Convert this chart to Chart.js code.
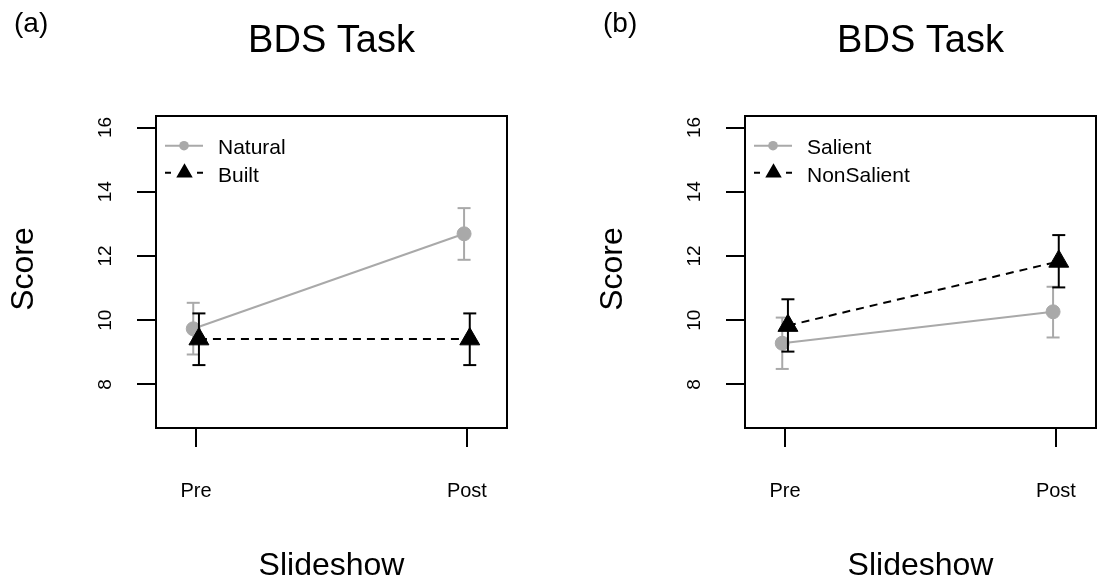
<!DOCTYPE html>
<html>
<head>
<meta charset="utf-8">
<script src="https://cdn.jsdelivr.net/npm/chart.js@4/dist/chart.umd.min.js"></script>
<style>
html,body{margin:0;padding:0;background:#fff;width:1100px;height:579px;overflow:hidden}
#wrap{position:relative;width:1100px;height:579px;overflow:hidden}
canvas{position:absolute;top:0}
</style>
</head>
<body>
<div id="wrap">
<canvas id="ca" width="550" height="579" style="left:0"></canvas>
<canvas id="cb" width="570" height="579" style="left:550px"></canvas>
</div>
<script>
// ---- data ----
const categories = ['Pre', 'Post'];
const xPositions = [1, 2];
const yTicks = [8, 10, 12, 14, 16];
const titleText = 'BDS Task';
const xTitle = 'Slideshow';
const yTitle = 'Score';

const naturalMean = [9.73, 12.69];
const naturalLo   = [8.93, 11.88];
const naturalHi   = [10.54, 13.49];
const builtMean   = [9.41, 9.41];
const builtLo     = [8.60, 8.60];
const builtHi     = [10.21, 10.21];

const salientMean    = [9.28, 10.26];
const salientLo      = [8.48, 9.46];
const salientHi      = [10.08, 11.04];
const nonSalientMean = [9.83, 11.83];
const nonSalientLo   = [9.02, 11.02];
const nonSalientHi   = [10.65, 12.65];

const dodge = 0.0105;

// ---- styles ----
const GRAY = '#a9a9a9';
const BLACK = '#000000';
const FONT = '"Liberation Sans", Arial, sans-serif';

function seriesDatasets(mean, lo, hi, offset, color, isTri, orderBase) {
  const ds = [];
  ds.push({
    data: xPositions.map((x, i) => ({x: x + offset, y: mean[i]})),
    borderColor: color, borderWidth: 2,
    borderDash: isTri ? [8, 6] : [],
    showLine: true,
    pointStyle: isTri ? 'triangle' : 'circle',
    pointRadius: isTri ? 11.5 : 7,
    pointBackgroundColor: color, pointBorderColor: color, pointBorderWidth: 1,
    order: orderBase
  });
  xPositions.forEach((x, i) => {
    ds.push({
      data: [{x: x + offset, y: lo[i]}, {x: x + offset, y: hi[i]}],
      borderColor: color, borderWidth: 2, showLine: true,
      pointStyle: 'line', pointRadius: 6.5, pointBorderWidth: 2,
      pointBorderColor: color, pointBackgroundColor: color,
      order: orderBase + 1
    });
  });
  return ds;
}

function makePanel(id, cfg) {
  const deco = {
    id: 'deco' + id,
    afterDraw(chart) {
      const ctx = chart.ctx, a = chart.chartArea;
      const ys = chart.scales.y;
      ctx.save();
      ctx.strokeStyle = '#000'; ctx.lineWidth = 2;
      ctx.strokeRect(a.left, a.top, a.right - a.left, a.bottom - a.top);
      ctx.fillStyle = '#000';
      // y tick labels (rotated)
      ctx.font = '19px ' + FONT;
      ctx.textAlign = 'center'; ctx.textBaseline = 'alphabetic';
      yTicks.forEach(v => {
        const py = ys.getPixelForValue(v);
        ctx.save(); ctx.translate(a.left - 45.3, py); ctx.rotate(-Math.PI / 2);
        ctx.fillText(String(v), 0, 0); ctx.restore();
      });
      // y title
      ctx.font = '32px ' + FONT;
      ctx.save(); ctx.translate(a.left - 123, (a.top + a.bottom) / 2 - 3); ctx.rotate(-Math.PI / 2);
      ctx.fillText(yTitle, 0, 0); ctx.restore();
      // x title
      ctx.fillText(xTitle, (a.left + a.right) / 2, 575);
      // main title
      ctx.font = '38px ' + FONT;
      ctx.fillText(titleText, (a.left + a.right) / 2, 52);
      // panel letter
      ctx.font = '28px ' + FONT; ctx.textAlign = 'left';
      ctx.fillText(cfg.letter, a.left - 142, 32);
      // legend
      const L = a.left;
      ctx.font = '21px ' + FONT;
      // row 1
      let ry = 145.7;
      ctx.strokeStyle = GRAY; ctx.lineWidth = 2; ctx.setLineDash([]);
      ctx.beginPath(); ctx.moveTo(L + 9, ry); ctx.lineTo(L + 47, ry); ctx.stroke();
      ctx.fillStyle = GRAY; ctx.beginPath(); ctx.arc(L + 28, ry, 4.8, 0, Math.PI * 2); ctx.fill();
      ctx.fillStyle = '#000';
      ctx.fillText(cfg.legend[0], L + 62, ry + 8.3);
      // row 2
      ry = 172.7;
      ctx.strokeStyle = BLACK; ctx.lineWidth = 2; ctx.setLineDash([6, 26]);
      ctx.beginPath(); ctx.moveTo(L + 9, ry); ctx.lineTo(L + 47, ry); ctx.stroke();
      ctx.setLineDash([]);
      ctx.fillStyle = BLACK;
      Chart.helpers.drawPoint(ctx, {pointStyle: 'triangle', radius: 7.5, borderWidth: 1, rotation: 0}, L + 28.5, ry);
      ctx.fillText(cfg.legend[1], L + 62, ry + 8.8);
      ctx.restore();
    }
  };
  return new Chart(document.getElementById(id), {
    type: 'scatter',
    data: {datasets: cfg.datasets},
    options: {
      responsive: false, animation: false, devicePixelRatio: 1,
      layout: {padding: {left: 0, top: 116, right: cfg.rightPad, bottom: 0}},
      plugins: {legend: {display: false}, tooltip: {enabled: false}, title: {display: false}},
      scales: {
        x: {
          type: 'linear', min: 0.852, max: 2.148,
          afterBuildTicks: s => { s.ticks = xPositions.map(v => ({value: v})); },
          afterFit: s => { s.height = 151; s.paddingLeft = 0; s.paddingRight = 0; },
          ticks: {
            callback: v => categories[xPositions.indexOf(v)],
            font: {family: FONT, size: 20}, color: '#000', padding: 32,
            autoSkip: false, maxRotation: 0, minRotation: 0
          },
          grid: {drawOnChartArea: false, drawTicks: true, tickLength: 19, color: '#000', lineWidth: 2},
          border: {display: false}
        },
        y: {
          type: 'linear', min: 6.64, max: 16.36,
          afterBuildTicks: s => { s.ticks = yTicks.map(v => ({value: v})); },
          afterFit: s => { s.width = cfg.leftW; s.paddingTop = 0; s.paddingBottom = 0; },
          ticks: {display: false},
          grid: {drawOnChartArea: false, drawTicks: true, tickLength: 19, color: '#000', lineWidth: 2},
          border: {display: false}
        }
      }
    },
    plugins: [deco]
  });
}

makePanel('ca', {
  letter: '(a)', legend: ['Natural', 'Built'], leftW: 156, rightPad: 43,
  datasets: [
    ...seriesDatasets(builtMean, builtLo, builtHi, dodge, BLACK, true, 0),
    ...seriesDatasets(naturalMean, naturalLo, naturalHi, -dodge, GRAY, false, 2)
  ]
});
makePanel('cb', {
  letter: '(b)', legend: ['Salient', 'NonSalient'], leftW: 195, rightPad: 24,
  datasets: [
    ...seriesDatasets(nonSalientMean, nonSalientLo, nonSalientHi, dodge, BLACK, true, 0),
    ...seriesDatasets(salientMean, salientLo, salientHi, -dodge, GRAY, false, 2)
  ]
});
</script>
</body>
</html>
